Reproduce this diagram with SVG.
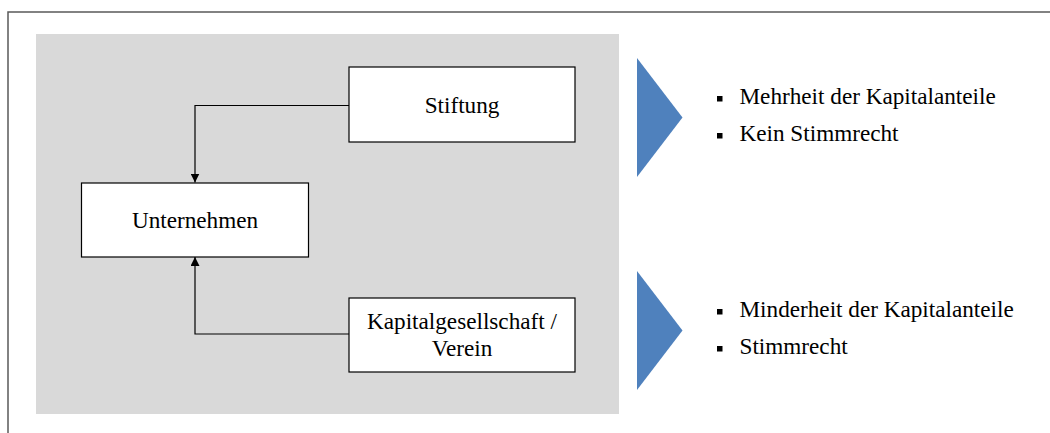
<svg xmlns="http://www.w3.org/2000/svg" width="1050" height="433" viewBox="0 0 1050 433">
<defs>
<style>
.t{font-family:"Liberation Serif","Times New Roman",serif;font-size:23.2px;fill:#000}
.c{text-anchor:middle}
.box{fill:#fff;stroke:#000;stroke-width:1.2}
.con{fill:none;stroke:#000;stroke-width:1.2}
.tri{fill:#4f81bd}
.bul{fill:#000}
</style>
<marker id="ah" viewBox="0 0 10 10" refX="10" refY="5" markerWidth="9" markerHeight="9" markerUnits="userSpaceOnUse" orient="auto">
<path d="M0,0 L10,5 L0,10 Z" fill="#000"/>
</marker>
</defs>
<rect x="0" y="0" width="1050" height="433" fill="#fff"/>
<rect x="8" y="12" width="1100" height="500" fill="none" stroke="#595959" stroke-width="1.5"/>
<rect x="36" y="34" width="583" height="380" fill="#d9d9d9"/>
<g id="connectors">
<path class="con" d="M349,105.5 H195 V182.5" marker-end="url(#ah)"/>
<path class="con" d="M349,334 H195 V257" marker-end="url(#ah)"/>
</g>
<g id="stiftung">
<rect class="box" x="349" y="67" width="226" height="75"/>
<text class="t c" x="462" y="113">Stiftung</text>
</g>
<g id="unternehmen">
<rect class="box" x="81.5" y="183" width="227" height="74"/>
<text class="t c" x="195" y="228">Unternehmen</text>
</g>
<g id="kapitalgesellschaft">
<rect class="box" x="349" y="298" width="226" height="74"/>
<text class="t c" x="462" y="329">Kapitalgesellschaft /</text>
<text class="t c" x="462" y="356">Verein</text>
</g>
<g id="chevron1">
<polygon class="tri" points="637,58 682.5,117.5 637,177"/>
</g>
<g id="chevron2">
<polygon class="tri" points="637,271 682.5,330.5 637,390"/>
</g>
<g id="list1">
<rect class="bul" x="717" y="96" width="5.5" height="5.5"/>
<text class="t" x="739.5" y="104">Mehrheit der Kapitalanteile</text>
<rect class="bul" x="717" y="133" width="5.5" height="5.5"/>
<text class="t" x="739.5" y="141">Kein Stimmrecht</text>
</g>
<g id="list2">
<rect class="bul" x="717" y="309" width="5.5" height="5.5"/>
<text class="t" x="739.5" y="317">Minderheit der Kapitalanteile</text>
<rect class="bul" x="717" y="346" width="5.5" height="5.5"/>
<text class="t" x="739.5" y="354">Stimmrecht</text>
</g>
</svg>
